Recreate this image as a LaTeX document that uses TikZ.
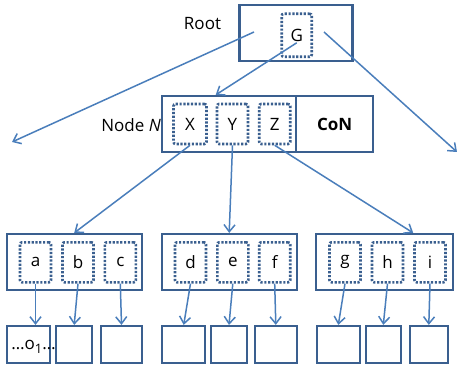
\documentclass[tikz,border=0pt]{standalone}
\usepackage{fontspec}
\setmainfont{Open Sans}
\usetikzlibrary{arrows.meta,calc}
\definecolor{boxblue}{HTML}{3A5F8F}
\definecolor{linkblue}{HTML}{4A7EBB}
\begin{document}
\begin{tikzpicture}[x=1pt,y=-1pt,font=\fontsize{17}{20}\selectfont,>={Straight Barb[length=7pt,width=11pt]},box/.style={draw=boxblue, line width=2.2pt, inner sep=0pt, minimum height=56pt},key/.style={draw=boxblue, line width=2.6pt, dash pattern=on 2.2pt off 1.6pt, rounded corners=2pt, inner sep=0pt, minimum width=31pt, minimum height=40pt},leaf/.style={draw=boxblue, line width=2.2pt, inner sep=0pt, minimum height=37pt},link/.style={->, draw=linkblue, line width=1.5pt}]
\useasboundingbox (0,0) rectangle (457,366);
\node[box, minimum width=113pt] (root) at (296,33) {};\node[key, minimum width=30pt, minimum height=43pt] (G) at (296.7,35.3) {G};
\node (rootlbl) at (202.5,24) {Root};
\node[box, minimum width=134.3pt] (N) at (228.8,124) {};\node[box, minimum width=77.3pt] (CoN) at (334.6,124) {\bfseries CoN};
\node[anchor=east, inner sep=0pt] (Nlbl) at (161,125) {Node \textit{N}};
\node[key, minimum width=33pt] (X) at (190,124) {X};\node[key] (Y) at (232.5,124) {Y};\node[key] (Z) at (274.7,124) {Z};
\node[box, minimum width=135pt] (LB) at (74.2,262) {};\node[box, minimum width=135pt] (MB) at (229.2,262) {};\node[box, minimum width=137pt] (RB) at (384.5,262) {};
\foreach \k/\x in {a/35.5,b/78,c/120.3,d/190.5,e/232.8,f/274.7,g/345,h/387.5,i/430}
  \node[key] (\k) at (\x,262.3) {\k};
\foreach \n/\x/\w in {1/28.7/42.7,2/74.2/36.3,3/121.5/41.6,4/183.7/42.7,5/229/36.6,6/275.8/41.7,7/338.3/43.3,8/383.3/35.3,9/428.8/37.7}
  \node[leaf, minimum width=\w pt] (L\n) at (\x,344.5) {};
\node[inner sep=0pt] (o1) at (33.5,347) {…o{\fontsize{13}{15}\selectfont\raisebox{-4pt}{1}}…};
% pointers out of the root
\coordinate (rootL) at (254,32);\coordinate (rootR) at (324,32);\coordinate (farL) at (12,142);\coordinate (farR) at (457,152);
\draw[link] (rootL) -- (farL);\draw[link] (rootR) -- (farR);
\draw[link] ($(G.center)+(0,7.5)$) -- (N.north -| Y.west);
\draw[link] (X.south) -- (LB.north);\draw[link] (Y.south) -- (MB.north);\draw[link] (Z.south) -- (RB.north -| i.west);
% keys down to the leaves
\draw[link] (a.south) -- (a.south |- L1.north);
\foreach \k/\n in {b/2,c/3,d/4,e/5,f/6,g/7,h/8,i/9}
  \draw[link] (\k.south) -- (L\n.north);
\end{tikzpicture}
\end{document}
